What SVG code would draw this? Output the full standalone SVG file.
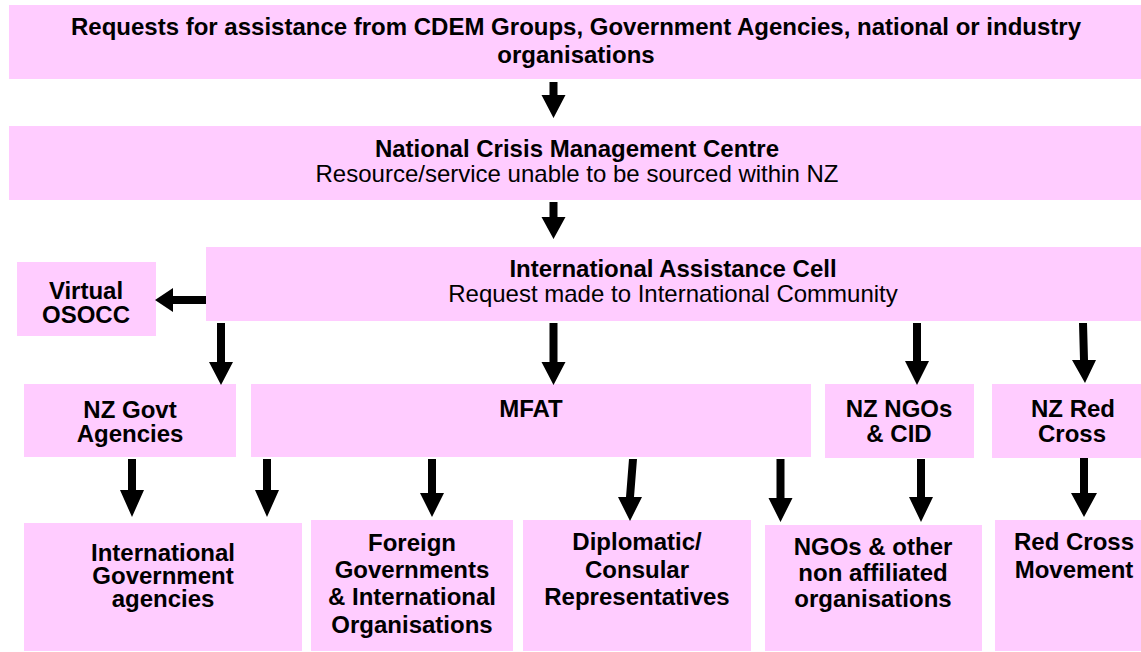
<svg xmlns="http://www.w3.org/2000/svg" width="1141" height="652" viewBox="0 0 1141 652">
  <style>
    .box { fill: #FFCCFF; }
    text { font-family: "Liberation Sans", Arial, sans-serif; font-size: 24px; fill: #000; text-anchor: middle; }
    .b { font-weight: bold; }
    .arrow { fill: #000; }
  </style>
  <rect width="1141" height="652" fill="#FFFFFF"/>

  <g id="requests">
    <rect class="box" x="9" y="5" width="1132" height="74"/>
    <text class="b" x="576" y="35">Requests for assistance from CDEM Groups, Government Agencies, national or industry</text>
    <text class="b" x="576" y="63">organisations</text>
  </g>

  <g id="ncmc">
    <rect class="box" x="9" y="126" width="1132" height="74"/>
    <text class="b" x="577" y="157">National Crisis Management Centre</text>
    <text x="577" y="182">Resource/service unable to be sourced within NZ</text>
  </g>

  <g id="iac">
    <rect class="box" x="206" y="247" width="935" height="74"/>
    <text class="b" x="673" y="277">International Assistance Cell</text>
    <text x="673" y="302">Request made to International Community</text>
  </g>

  <g id="osocc">
    <rect class="box" x="17" y="262" width="139" height="74"/>
    <text class="b" x="86" y="299">Virtual</text>
    <text class="b" x="86" y="323">OSOCC</text>
  </g>

  <g id="nz-govt">
    <rect class="box" x="24" y="384" width="212" height="73"/>
    <text class="b" x="130" y="418">NZ Govt</text>
    <text class="b" x="130" y="442">Agencies</text>
  </g>

  <g id="mfat">
    <rect class="box" x="251" y="384" width="560" height="73"/>
    <text class="b" x="531" y="417">MFAT</text>
  </g>

  <g id="nz-ngos">
    <rect class="box" x="825" y="384" width="149" height="74"/>
    <text class="b" x="899" y="417">NZ NGOs</text>
    <text class="b" x="899" y="442">&amp; CID</text>
  </g>

  <g id="nz-red-cross">
    <rect class="box" x="992" y="384" width="149" height="74"/>
    <text class="b" x="1073" y="417">NZ Red</text>
    <text class="b" x="1072" y="442">Cross</text>
  </g>

  <g id="intl-govt">
    <rect class="box" x="24" y="523" width="278" height="128"/>
    <text class="b" x="163" y="561">International</text>
    <text class="b" x="163" y="584">Government</text>
    <text class="b" x="163" y="607">agencies</text>
  </g>

  <g id="foreign-govts">
    <rect class="box" x="311" y="520" width="202" height="131"/>
    <text class="b" x="412" y="551">Foreign</text>
    <text class="b" x="412" y="578">Governments</text>
    <text class="b" x="412" y="605">&amp; International</text>
    <text class="b" x="412" y="633">Organisations</text>
  </g>

  <g id="diplomatic">
    <rect class="box" x="523" y="520" width="228" height="131"/>
    <text class="b" x="637" y="550">Diplomatic/</text>
    <text class="b" x="637" y="578">Consular</text>
    <text class="b" x="637" y="605">Representatives</text>
  </g>

  <g id="ngos-other">
    <rect class="box" x="765" y="525" width="217" height="126"/>
    <text class="b" x="873" y="555">NGOs &amp; other</text>
    <text class="b" x="873" y="581">non affiliated</text>
    <text class="b" x="873" y="607">organisations</text>
  </g>

  <g id="red-cross-movement">
    <rect class="box" x="995" y="520" width="146" height="131"/>
    <text class="b" x="1074" y="550">Red Cross</text>
    <text class="b" x="1074" y="578">Movement</text>
  </g>

  <g id="connectors" class="arrow">
    <!-- Requests -> NCMC -->
    <polygon points="549.5,82 557.5,82 557.5,95 565.5,95 553.5,118 541.5,95 549.5,95"/>
    <!-- NCMC -> IAC -->
    <polygon points="549.5,202 557.5,202 557.5,217 565.5,217 553.5,239 541.5,217 549.5,217"/>
    <!-- IAC -> MFAT -->
    <polygon points="549.5,323 557.5,323 557.5,362 565.5,362 553.5,385 541.5,362 549.5,362"/>
    <!-- IAC -> Virtual OSOCC -->
    <polygon points="206,296 206,304 173,304 173,312 155,300 173,288 173,296"/>
    <!-- IAC -> NZ Govt Agencies -->
    <polygon points="217,323 225,323 225,362 233,362 221,385 209,362 217,362"/>
    <!-- IAC -> NZ NGOs & CID -->
    <polygon points="913,323 921,323 921,361 929,361 917,385 905,361 913,361"/>
    <!-- IAC -> NZ Red Cross -->
    <polygon points="1079,323 1087,323 1088,360 1096,360 1085,383 1072,360 1080,360"/>
    <!-- NZ Govt Agencies -> International Government agencies -->
    <polygon points="128,459 136,459 136,490 144,490 132,517 120,490 128,490"/>
    <!-- MFAT -> International Government agencies -->
    <polygon points="263,459 271,459 271,490 279,490 267,517 255,490 263,490"/>
    <!-- MFAT -> Foreign Governments -->
    <polygon points="428,459 436,459 436,493 444,493 432,517 420,493 428,493"/>
    <!-- MFAT -> Diplomatic/Consular -->
    <polygon points="629,459 637,459 634,497 642,497 630,521 618,497 626,497"/>
    <!-- MFAT -> NGOs & other -->
    <polygon points="776.5,459 784.5,459 784.5,498 792.5,498 780.5,522 768.5,498 776.5,498"/>
    <!-- NZ NGOs & CID -> NGOs & other -->
    <polygon points="917,459 925,459 925,497 933,497 921,522 909,497 917,497"/>
    <!-- NZ Red Cross -> Red Cross Movement -->
    <polygon points="1080,458 1088,458 1088,493 1097,493 1084,517 1071,493 1080,493"/>
  </g>
</svg>
